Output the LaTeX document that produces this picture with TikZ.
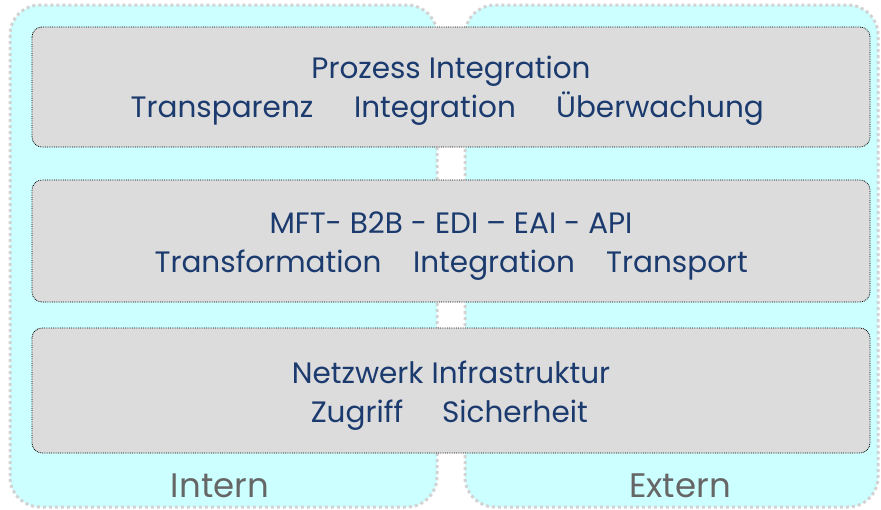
\documentclass[tikz,border=0pt]{standalone}
\usepackage{fontspec}
\setmainfont{Poppins}
\definecolor{panelcyan}{HTML}{CCFFFF}
\definecolor{panelborder}{HTML}{D3D3D3}
\definecolor{boxgray}{HTML}{DCDCDC}
\definecolor{txtblue}{HTML}{1B3A6E}
\definecolor{txtgray}{HTML}{666666}
\begin{document}
\begin{tikzpicture}[x=1pt,y=-1pt,
  panel/.style={fill=panelcyan, draw=panelborder, line width=3pt, dash pattern=on 3pt off 3pt, rounded corners=30pt},
  layerbox/.style={fill=boxgray, draw=black, densely dotted, line width=0.8pt, rounded corners=10pt},
  word/.style={text=txtblue, font=\fontsize{29.5}{34}\selectfont, inner sep=0pt, anchor=base},
  lbl/.style={text=txtgray, font=\fontsize{34}{38}\selectfont, inner sep=0pt, anchor=base}]
\useasboundingbox (0,0) rectangle (881,509);
\fill[white] (0,0) rectangle (881,509);
% panels
\draw[panel] (10,5) rectangle (437,507);
\draw[panel] (465,5) rectangle (878,507);
% layer boxes
\draw[layerbox] (32,27) rectangle (870,147);
\draw[layerbox] (32,180) rectangle (870,302);
\draw[layerbox] (32,328) rectangle (870,453);
% box 1
\node[word] (p1) at (451,78) {Prozess Integration};
\node[word] (p2a) at (222,117) {Transparenz};
\node[word] (p2b) at (435,117) {Integration};
\node[word] (p2c) at (660,117) {Überwachung};
% box 2
\node[word] (m1) at (451,233) {MFT- B2B - EDI – EAI - API};
\node[word] (m2a) at (268,272) {Transformation};
\node[word] (m2b) at (494,272) {Integration};
\node[word] (m2c) at (677,272) {Transport};
% box 3
\node[word] (n1) at (451,383) {Netzwerk Infrastruktur};
\node[word] (n2a) at (357,422) {Zugriff};
\node[word] (n2b) at (515,422) {Sicherheit};
% panel labels
\node[lbl] (intern) at (220,497) {Intern};
\node[lbl] (extern) at (680,497) {Extern};
\end{tikzpicture}
\end{document}
